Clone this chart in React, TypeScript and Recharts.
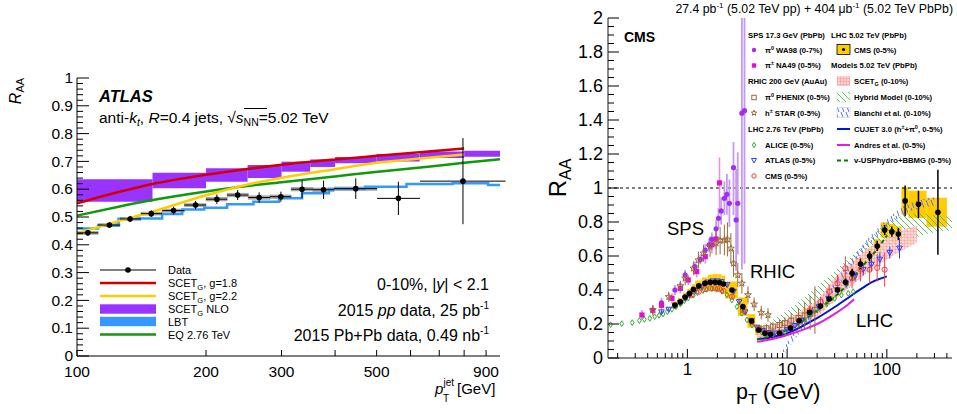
import React from 'react'
import {
  ComposedChart,
  Line,
  Scatter,
  Area,
  XAxis,
  YAxis,
  ErrorBar,
  ReferenceArea,
  ReferenceLine,
} from 'recharts'

const FONT = "'Liberation Sans', Arial, Helvetica, sans-serif"

// ---------- left panel: ATLAS jet RAA, 0-10% ----------
const jetPt = [106, 119, 133, 149, 168, 189, 212, 237, 266, 299, 335, 376, 447, 562, 795]
const jetLo = [100, 112, 126, 141, 158, 178, 200, 224, 251, 282, 316, 355, 398, 501, 631]
const jetHi = [112, 126, 141, 158, 178, 200, 224, 251, 282, 316, 355, 398, 501, 631, 1000]
const jetRaa = [0.443, 0.471, 0.493, 0.512, 0.523, 0.543, 0.564, 0.579, 0.570, 0.573, 0.600, 0.598, 0.602, 0.567, 0.629]
const jetStat = [0.010, 0.010, 0.011, 0.012, 0.014, 0.015, 0.017, 0.018, 0.019, 0.018, 0.032, 0.033, 0.037, 0.060, 0.155]
const jetSys = [0.005, 0.005, 0.005, 0.005, 0.005, 0.005, 0.006, 0.006, 0.006, 0.006, 0.006, 0.006, 0.006, 0, 0]

const scet18Pt = [100, 125, 150, 200, 250, 300, 400, 500, 650, 800]
const scet18 = [0.549, 0.59, 0.619, 0.652, 0.673, 0.688, 0.707, 0.72, 0.735, 0.746]
const scet22Pt = [100, 125, 150, 200, 250, 300, 400, 500, 650, 800]
const scet22 = [0.441, 0.485, 0.519, 0.578, 0.617, 0.641, 0.672, 0.695, 0.712, 0.725]
const eqPt = [100, 125, 150, 200, 240, 300, 400, 490, 650, 800, 970]
const eq276 = [0.505, 0.537, 0.561, 0.592, 0.609, 0.625, 0.646, 0.661, 0.68, 0.695, 0.708]

const nloLo = [100, 150, 200, 250, 300, 350, 400, 500, 630, 800]
const nloHi = [150, 200, 250, 300, 350, 400, 500, 630, 800, 970]
const nloBottom = [0.555, 0.603, 0.627, 0.64, 0.663, 0.68, 0.693, 0.70, 0.712, 0.717]
const nloTop = [0.636, 0.659, 0.675, 0.687, 0.699, 0.707, 0.716, 0.727, 0.736, 0.738]

const lbtPt = [100, 112, 125, 140, 158, 176, 198, 224, 258, 296, 335, 387, 470, 587, 752, 910, 970]
const lbtRaa = [0.459, 0.469, 0.494, 0.495, 0.511, 0.527, 0.533, 0.546, 0.555, 0.567, 0.585, 0.601, 0.609, 0.619, 0.621, 0.615, 0.615]

const leftXTicks = [100, 200, 300, 400, 500, 600, 700, 800, 900]
const leftXLabels = ['100', '200', '300', '500', '900']

// ---------- right panel: charged hadron / pi0 RAA ----------
const cmsLo = [0.7, 0.8, 0.9, 1.0, 1.1, 1.2, 1.4, 1.6, 1.8, 2.0, 2.2, 2.4, 3.2, 4.0, 4.8, 5.6, 6.4, 7.2, 9.6, 12.0, 14.4, 19.2, 24.0, 28.8, 35.2, 41.6, 48.0, 60.8, 73.6, 86.4, 103.6, 120.8, 140, 165, 250]
const cmsHi = [0.8, 0.9, 1.0, 1.1, 1.2, 1.4, 1.6, 1.8, 2.0, 2.2, 2.4, 3.2, 4.0, 4.8, 5.6, 6.4, 7.2, 9.6, 12.0, 14.4, 19.2, 24.0, 28.8, 35.2, 41.6, 48.0, 60.8, 73.6, 86.4, 103.6, 120.8, 140, 165, 250, 400]
const cmsPt = [0.75, 0.85, 0.95, 1.05, 1.15, 1.3, 1.5, 1.7, 1.9, 2.1, 2.3, 2.8, 3.6, 4.4, 5.2, 6.0, 6.8, 8.4, 10.8, 13.2, 16.8, 21.6, 26.4, 32.0, 38.4, 44.8, 54.4, 67.2, 80.0, 95.0, 112.2, 130.4, 152.5, 207.5, 325]
const cmsRaa = [0.312, 0.331, 0.359, 0.38, 0.404, 0.424, 0.439, 0.445, 0.445, 0.443, 0.435, 0.40, 0.302, 0.218, 0.165, 0.145, 0.139, 0.145, 0.176, 0.219, 0.269, 0.306, 0.347, 0.40, 0.446, 0.498, 0.553, 0.60, 0.659, 0.753, 0.743, 0.729, 0.924, 0.904, 0.857]
const cmsStat = [0.003, 0.003, 0.003, 0.003, 0.003, 0.003, 0.003, 0.003, 0.003, 0.003, 0.003, 0.004, 0.004, 0.004, 0.004, 0.004, 0.004, 0.004, 0.005, 0.006, 0.008, 0.01, 0.012, 0.015, 0.02, 0.025, 0.03, 0.03, 0.03, 0.03, 0.03, 0.035, 0.09, 0.08, 0.25]
const cmsSys = [0.02, 0.022, 0.025, 0.027, 0.03, 0.032, 0.035, 0.045, 0.05, 0.05, 0.05, 0.05, 0.055, 0.04, 0.03, 0.025, 0.02, 0.02, 0.02, 0.02, 0.022, 0.025, 0.027, 0.03, 0.032, 0.035, 0.035, 0.04, 0.04, 0.045, 0.045, 0.045, 0.08, 0.08, 0.085]

const wa98Pt = [0.55, 0.75, 0.95, 1.19, 1.35, 1.51, 1.65, 1.76, 1.94, 2.05, 2.18, 2.35, 2.49, 2.64, 2.9, 3.08, 3.2, 3.52, 3.74]
const wa98Raa = [0.325, 0.40, 0.488, 0.537, 0.58, 0.635, 0.665, 0.698, 0.76, 0.822, 0.865, 0.939, 0.963, 0.91, 1.12, 0.812, 0.91, 1.44, 1.455]
const wa98ErrLo = [0.03, 0.03, 0.03, 0.03, 0.03, 0.035, 0.04, 0.04, 0.05, 0.06, 0.08, 0.1, 0.12, 0.14, 0.28, 0.3, 0.3, 0.92, 0.9]
const wa98ErrHi = [0.03, 0.03, 0.03, 0.03, 0.03, 0.035, 0.04, 0.04, 0.05, 0.06, 0.08, 0.1, 0.12, 0.14, 0.15, 0.3, 0.3, 0.56, 0.545]

const na49Pt = [0.35, 0.45, 0.55, 0.70, 0.85, 1.02, 1.24, 1.51, 1.76, 1.94, 2.1]
const na49Raa = [0.253, 0.28, 0.31, 0.351, 0.41, 0.459, 0.508, 0.596, 0.665, 0.70, 1.03]
const na49Err = [0.03, 0.03, 0.03, 0.03, 0.03, 0.03, 0.035, 0.04, 0.05, 0.06, 0.15]

const phenixPt = [5.2, 6.2, 7.2, 8.4, 9.5, 11, 13, 15, 17, 19]
const phenixRaa = [0.17, 0.175, 0.185, 0.194, 0.205, 0.22, 0.235, 0.25, 0.265, 0.282]
const phenixErr = [0.02, 0.02, 0.025, 0.03, 0.035, 0.045, 0.06, 0.08, 0.1, 0.14]

const starPt = [0.45, 0.65, 0.85, 0.95, 1.15, 1.29, 1.45, 1.69, 1.94, 2.13, 2.35, 2.52, 2.73, 2.9, 3.2, 3.52, 4.05, 4.67, 5.5, 6.43]
const starRaa = [0.282, 0.36, 0.424, 0.469, 0.528, 0.576, 0.616, 0.655, 0.675, 0.69, 0.694, 0.698, 0.645, 0.557, 0.488, 0.439, 0.371, 0.316, 0.267, 0.253]
const starErr = [0.03, 0.03, 0.03, 0.04, 0.04, 0.05, 0.05, 0.06, 0.07, 0.08, 0.09, 0.1, 0.09, 0.08, 0.07, 0.06, 0.05, 0.04, 0.04, 0.04]

const alicePt = [0.17, 0.22, 0.28, 0.33, 0.37, 0.42, 0.47, 0.52, 0.57, 0.63, 0.70, 0.77, 0.85, 0.93, 1.02, 1.15, 1.26, 1.43, 1.57, 1.76, 1.97, 2.22, 2.49, 2.79, 3.14, 3.52, 3.95, 4.44, 4.98, 5.6, 6.3, 7.2, 8.3, 9.5, 11, 13, 15, 17.5, 21, 25, 30, 35, 41, 46]
const aliceRaa = [0.196, 0.202, 0.208, 0.22, 0.227, 0.233, 0.243, 0.251, 0.259, 0.272, 0.286, 0.302, 0.318, 0.337, 0.353, 0.369, 0.384, 0.396, 0.404, 0.408, 0.404, 0.392, 0.371, 0.341, 0.302, 0.263, 0.224, 0.194, 0.165, 0.15, 0.142, 0.14, 0.145, 0.155, 0.175, 0.2, 0.225, 0.255, 0.29, 0.32, 0.35, 0.37, 0.38, 0.39]

const atlasPt = [0.55, 0.65, 0.75, 0.85, 0.95, 1.05, 1.2, 1.4, 1.6, 1.8, 2.0, 2.2, 2.5, 2.9, 3.3, 3.8, 4.4, 5.0, 5.7, 6.5, 7.5, 8.7, 10, 12, 14, 17, 21, 26, 32, 39, 48, 58, 70, 85, 107, 134]
const atlasRaa = [0.27, 0.285, 0.305, 0.325, 0.35, 0.37, 0.395, 0.42, 0.445, 0.452, 0.452, 0.448, 0.43, 0.39, 0.33, 0.27, 0.22, 0.18, 0.16, 0.148, 0.145, 0.15, 0.165, 0.19, 0.22, 0.26, 0.30, 0.35, 0.40, 0.44, 0.48, 0.52, 0.55, 0.58, 0.62, 0.645]
const atlasErr = [0.01, 0.01, 0.01, 0.01, 0.01, 0.01, 0.01, 0.01, 0.01, 0.01, 0.01, 0.01, 0.01, 0.01, 0.01, 0.01, 0.01, 0.01, 0.01, 0.01, 0.01, 0.01, 0.01, 0.01, 0.015, 0.015, 0.02, 0.02, 0.025, 0.03, 0.03, 0.035, 0.04, 0.04, 0.035, 0.06]

const cms276Pt = [1.1, 1.3, 1.5, 1.7, 1.9, 2.1, 2.3, 2.8, 3.6, 4.4, 5.2, 6.0, 6.8, 8.4, 10.8, 13.2, 16.8, 21.6, 26.4, 32, 38.4, 44.8, 54.4, 67.2, 80, 95]
const cms276Raa = [0.37, 0.39, 0.405, 0.41, 0.41, 0.405, 0.395, 0.36, 0.28, 0.21, 0.17, 0.15, 0.14, 0.15, 0.18, 0.22, 0.28, 0.33, 0.39, 0.44, 0.528, 0.47, 0.52, 0.52, 0.53, 0.52]
const cms276Err = [0.01, 0.01, 0.01, 0.01, 0.01, 0.01, 0.01, 0.01, 0.01, 0.01, 0.01, 0.01, 0.01, 0.01, 0.015, 0.02, 0.025, 0.03, 0.04, 0.05, 0.07, 0.06, 0.07, 0.08, 0.08, 0.1]

const scetPt = [5, 7, 10, 15, 20, 30, 50, 70, 100, 140, 200]
const scetLo = [0.11, 0.12, 0.14, 0.19, 0.24, 0.34, 0.45, 0.52, 0.58, 0.63, 0.68]
const scetHi = [0.18, 0.19, 0.23, 0.29, 0.34, 0.47, 0.59, 0.66, 0.71, 0.75, 0.78]

const hybridPt = [5, 7, 10, 15, 20, 30, 50, 70, 100, 150, 200, 300, 450]
const hybridLo = [0.11, 0.13, 0.16, 0.21, 0.26, 0.34, 0.45, 0.53, 0.60, 0.67, 0.71, 0.74, 0.75]
const hybridHi = [0.18, 0.22, 0.28, 0.36, 0.42, 0.51, 0.63, 0.71, 0.80, 0.84, 0.85, 0.84, 0.83]

const bianchiPt = [9, 10, 12, 15, 20, 30, 50, 70, 100, 150, 200, 300]
const bianchiLo = [0.0, 0.045, 0.11, 0.19, 0.275, 0.395, 0.575, 0.675, 0.765, 0.845, 0.875, 0.895]
const bianchiHi = [0.04, 0.095, 0.16, 0.24, 0.325, 0.445, 0.625, 0.725, 0.815, 0.895, 0.925, 0.945]

const cujetPt = [5, 6, 7, 8, 10, 12, 15, 20, 30, 40, 50, 60, 70, 80, 100]
const cujet = [0.11, 0.115, 0.122, 0.13, 0.145, 0.165, 0.195, 0.235, 0.30, 0.35, 0.39, 0.42, 0.445, 0.46, 0.48]
const andresPt = [5, 7, 10, 15, 20, 30, 40, 47]
const andres = [0.095, 0.11, 0.135, 0.17, 0.20, 0.26, 0.31, 0.345]
const hydroPt = [5, 7, 10, 15, 20, 30, 40, 55, 75, 100]
const hydro = [0.11, 0.13, 0.165, 0.225, 0.28, 0.36, 0.43, 0.53, 0.62, 0.72]

const rightXTicks = [0.2, 0.3, 0.4, 0.5, 0.6, 0.7, 0.8, 0.9, 1, 2, 3, 4, 5, 6, 7, 8, 9, 10, 20, 30, 40, 50, 60, 70, 80, 90, 100, 200, 300, 400]
const rightXLabels = ['1', '10', '100']

const range = (from: number, to: number, step: number) => {
  const out: number[] = []
  for (let v = from; v <= to + 1e-9; v += step) out.push(Math.round(v * 1000) / 1000)
  return out
}
const leftYTicks = range(0, 1, 0.02)
const rightYTicks = range(0, 2, 0.05)

// ---------- tick renderer (ROOT style, ticks inside the frame) ----------
type TickOpts = {
  side: 'left' | 'right' | 'top' | 'bottom'
  major: (v: number) => boolean
  label?: (v: number) => string | null
  majorLen: number
  minorLen: number
  fontSize?: number
  offset?: number
}

const makeTick = (o: TickOpts) => (props: any) => {
  const { x, y, payload } = props
  const v = payload.value
  const len = o.major(v) ? o.majorLen : o.minorLen
  let line
  if (o.side === 'bottom') line = <line x1={x} y1={y} x2={x} y2={y - len} stroke="#000" />
  else if (o.side === 'top') line = <line x1={x} y1={y} x2={x} y2={y + len} stroke="#000" />
  else if (o.side === 'left') line = <line x1={x} y1={y} x2={x + len} y2={y} stroke="#000" />
  else line = <line x1={x} y1={y} x2={x - len} y2={y} stroke="#000" />
  const lab = o.label ? o.label(v) : null
  let text = null
  if (lab) {
    const fs = o.fontSize ?? 15
    if (o.side === 'bottom')
      text = <text x={x} y={y + (o.offset ?? 18)} textAnchor="middle" fontSize={fs} fontFamily={FONT} fill="#000">{lab}</text>
    else
      text = <text x={x - (o.offset ?? 5)} y={y + fs * 0.34} textAnchor="end" fontSize={fs} fontFamily={FONT} fill="#000">{lab}</text>
  }
  return <g>{line}{text}</g>
}

const near = (v: number, step: number) => Math.abs(v / step - Math.round(v / step)) < 1e-6
const fmt = (v: number) => String(Math.round(v * 10) / 10)

// ---------- markers ----------
const marker = (kind: string, cx: number, cy: number, color: string, s = 3, key?: string) => {
  switch (kind) {
    case 'fcircle':
      return <circle key={key} cx={cx} cy={cy} r={s} fill={color} />
    case 'fsquare':
      return <rect key={key} x={cx - s} y={cy - s} width={2 * s} height={2 * s} fill={color} />
    case 'osquare':
      return <rect key={key} x={cx - s} y={cy - s} width={2 * s} height={2 * s} fill="none" stroke={color} strokeWidth={1} />
    case 'ocircle':
      return <circle key={key} cx={cx} cy={cy} r={s} fill="none" stroke={color} strokeWidth={1} />
    case 'odiamond':
      return <polygon key={key} points={`${cx},${cy - s * 1.2} ${cx + s * 0.75},${cy} ${cx},${cy + s * 1.2} ${cx - s * 0.75},${cy}`} fill="none" stroke={color} strokeWidth={1} />
    case 'otri':
      return <polygon key={key} points={`${cx - s},${cy - s * 0.8} ${cx + s},${cy - s * 0.8} ${cx},${cy + s}`} fill="none" stroke={color} strokeWidth={1} />
    case 'ostar': {
      const p: string[] = []
      for (let i = 0; i < 10; i++) {
        const r = i % 2 === 0 ? s * 1.2 : s * 0.5
        const a = -Math.PI / 2 + (i * Math.PI) / 5
        p.push(`${cx + r * Math.cos(a)},${cy + r * Math.sin(a)}`)
      }
      return <polygon key={key} points={p.join(' ')} fill="none" stroke={color} strokeWidth={1} />
    }
    default:
      return null
  }
}
const shape = (kind: string, color: string, s = 3) => (p: any) => marker(kind, p.cx, p.cy, color, s) ?? <g />

const pts = (xs: number[], ys: number[], err?: number[], errHi?: number[]) =>
  xs.map((x, i) => ({ x, y: ys[i], ey: err ? [err[i], (errHi ?? err)[i]] : 0 }))
const band = (xs: number[], lo: number[], hi: number[]) => xs.map((x, i) => ({ x, r: [lo[i], hi[i]] }))

// ---------- colours ----------
const C = {
  red: '#d00000',
  yellow: '#ffcc00',
  purple: '#9933ff',
  lbt: '#3399ff',
  green: '#0e990e',
  wa98: '#9f2ef0',
  wa98Err: '#c59af5',
  na49: '#e010d0',
  brown: '#9a6a3a',
  alice: '#33aa33',
  atlas: '#2f3cff',
  cms276: '#ff3a3a',
  cujet: '#0015d0',
  andres: '#e020e0',
  hydro: '#007a00',
}

function LeftPanel() {
  const data = jetPt.map((x, i) => ({ x, y: jetRaa[i], ex: [x - jetLo[i], jetHi[i] - x], ey: jetStat[i] }))
  return (
    <ComposedChart width={520} height={414} margin={{ top: 78, right: 20, bottom: 0, left: 0 }}>
      <XAxis
        dataKey="x" type="number" scale="log" domain={[100, 970]} allowDataOverflow
        ticks={leftXTicks} interval={0} height={58} tickSize={0} tickMargin={0}
        axisLine={{ stroke: '#000' }} tickLine={false}
        tick={makeTick({ side: 'bottom', major: () => true, majorLen: 6, minorLen: 6, fontSize: 15.5, offset: 21, label: (v) => (leftXLabels.includes(String(v)) ? String(v) : null) })}
      />
      <XAxis
        xAxisId="top" orientation="top" dataKey="x" type="number" scale="log" domain={[100, 970]} allowDataOverflow
        ticks={leftXTicks.slice(1)} interval={0} height={0} tickSize={0} tickMargin={0}
        axisLine={{ stroke: '#000' }} tickLine={false}
        tick={makeTick({ side: 'top', major: () => true, majorLen: 6, minorLen: 6 })}
      />
      <YAxis
        type="number" domain={[0, 1]} allowDataOverflow ticks={leftYTicks} interval={0} width={77}
        tickSize={0} tickMargin={0} axisLine={{ stroke: '#000' }} tickLine={false}
        tick={makeTick({ side: 'left', major: (v) => near(v, 0.1), majorLen: 12, minorLen: 6, fontSize: 15.5, offset: 4, label: (v) => (near(v, 0.1) ? fmt(v) : null) })}
      />
      <YAxis
        yAxisId="right" orientation="right" type="number" domain={[0, 1]} allowDataOverflow ticks={leftYTicks} interval={0} width={0}
        tickSize={0} tickMargin={0} axisLine={{ stroke: '#000' }} tickLine={false}
        tick={makeTick({ side: 'right', major: (v) => near(v, 0.1), majorLen: 12, minorLen: 6 })}
      />
      {nloLo.map((lo, i) => (
        <ReferenceArea key={`nlo${i}`} x1={lo} x2={nloHi[i]} y1={nloBottom[i]} y2={nloTop[i]} fill={C.purple} fillOpacity={1} stroke="none" ifOverflow="hidden" />
      ))}
      {jetPt.map((_, i) =>
        jetSys[i] > 0 ? (
          <ReferenceArea key={`sys${i}`} x1={jetLo[i]} x2={jetHi[i]} y1={jetRaa[i] - jetSys[i]} y2={jetRaa[i] + jetSys[i]} fill="#b0b0b0" fillOpacity={1} stroke="#8a8a8a" strokeWidth={0.6} ifOverflow="hidden" />
        ) : null,
      )}
      <Line data={lbtPt.map((x, i) => ({ x, y: lbtRaa[i] }))} dataKey="y" type="stepAfter" stroke={C.lbt} strokeWidth={2.5} dot={false} isAnimationActive={false} />
      <Line data={eqPt.map((x, i) => ({ x, y: eq276[i] }))} dataKey="y" type="monotone" stroke={C.green} strokeWidth={2.5} dot={false} isAnimationActive={false} />
      <Line data={scet22Pt.map((x, i) => ({ x, y: scet22[i] }))} dataKey="y" type="monotone" stroke={C.yellow} strokeWidth={2.5} dot={false} isAnimationActive={false} />
      <Line data={scet18Pt.map((x, i) => ({ x, y: scet18[i] }))} dataKey="y" type="monotone" stroke={C.red} strokeWidth={2.5} dot={false} isAnimationActive={false} />
      <Scatter data={data} dataKey="y" isAnimationActive={false} shape={shape('fcircle', '#000', 2.8)}>
        <ErrorBar dataKey="ex" direction="x" width={0} stroke="#000" strokeWidth={1} />
        <ErrorBar dataKey="ey" direction="y" width={0} stroke="#000" strokeWidth={1} />
      </Scatter>
    </ComposedChart>
  )
}

function RightPanel() {
  const cms = cmsPt.map((x, i) => ({ x, y: cmsRaa[i], ey: cmsStat[i] }))
  return (
    <ComposedChart width={437} height={414} margin={{ top: 18, right: 5, bottom: 0, left: 0 }}>
      <XAxis
        dataKey="x" type="number" scale="log" domain={[0.16, 450]} allowDataOverflow
        ticks={rightXTicks} interval={0} height={56} tickSize={0} tickMargin={0}
        axisLine={{ stroke: '#8a8a8a', strokeWidth: 2 }} tickLine={false}
        tick={makeTick({ side: 'bottom', major: (v) => [1, 10, 100].includes(v), majorLen: 9, minorLen: 5, fontSize: 17, offset: 17, label: (v) => (rightXLabels.includes(String(v)) ? String(v) : null) })}
      />
      <XAxis
        xAxisId="top" orientation="top" dataKey="x" type="number" scale="log" domain={[0.16, 450]} allowDataOverflow
        ticks={rightXTicks} interval={0} height={0} tickSize={0} tickMargin={0}
        axisLine={{ stroke: '#000' }} tickLine={false}
        tick={makeTick({ side: 'top', major: (v) => [1, 10, 100].includes(v), majorLen: 9, minorLen: 5 })}
      />
      <YAxis
        type="number" domain={[0, 2]} allowDataOverflow ticks={rightYTicks} interval={0} width={88}
        tickSize={0} tickMargin={0} axisLine={{ stroke: '#8a8a8a', strokeWidth: 2 }} tickLine={false}
        tick={makeTick({ side: 'left', major: (v) => near(v, 0.2), majorLen: 11, minorLen: 6, fontSize: 18, offset: 5, label: (v) => (near(v, 0.2) ? fmt(v) : null) })}
      />
      <YAxis
        yAxisId="right" orientation="right" type="number" domain={[0, 2]} allowDataOverflow ticks={rightYTicks} interval={0} width={0}
        tickSize={0} tickMargin={0} axisLine={{ stroke: '#000' }} tickLine={false}
        tick={makeTick({ side: 'right', major: (v) => near(v, 0.2), majorLen: 11, minorLen: 6 })}
      />
      {cmsPt.map((_, i) => (
        <ReferenceArea key={`cs${i}`} x1={cmsLo[i]} x2={cmsHi[i]} y1={cmsRaa[i] - cmsSys[i]} y2={cmsRaa[i] + cmsSys[i]} fill={C.yellow} fillOpacity={1} stroke="none" ifOverflow="hidden" />
      ))}
      <ReferenceLine y={1} stroke="#000" strokeDasharray="3 3" strokeWidth={1.2} />
      <Area data={band(hybridPt, hybridLo, hybridHi)} dataKey="r" type="monotone" stroke="none" fill="url(#hybridHatch)" fillOpacity={1} isAnimationActive={false} />
      <Area data={band(scetPt, scetLo, scetHi)} dataKey="r" type="monotone" stroke="none" fill="url(#scetHatch)" fillOpacity={0.85} isAnimationActive={false} />
      <Area data={band(bianchiPt, bianchiLo, bianchiHi)} dataKey="r" type="monotone" stroke="none" fill="url(#bianchiHatch)" fillOpacity={1} isAnimationActive={false} />
      <Line data={pts(cujetPt, cujet)} dataKey="y" type="monotone" stroke={C.cujet} strokeWidth={2} dot={false} isAnimationActive={false} />
      <Line data={pts(andresPt, andres)} dataKey="y" type="monotone" stroke={C.andres} strokeWidth={2} dot={false} isAnimationActive={false} />
      <Line data={pts(hydroPt, hydro)} dataKey="y" type="monotone" stroke={C.hydro} strokeWidth={2} strokeDasharray="4 3" dot={false} isAnimationActive={false} />
      <Scatter data={pts(wa98Pt, wa98Raa, wa98ErrLo, wa98ErrHi)} dataKey="y" isAnimationActive={false} shape={shape('fcircle', C.wa98, 2.6)}>
        <ErrorBar dataKey="ey" direction="y" width={0} stroke={C.wa98Err} strokeWidth={1.8} />
      </Scatter>
      <Scatter data={pts(na49Pt, na49Raa, na49Err)} dataKey="y" isAnimationActive={false} shape={shape('fsquare', C.na49, 2.6)}>
        <ErrorBar dataKey="ey" direction="y" width={0} stroke="#ee88e8" strokeWidth={1.5} />
      </Scatter>
      <Scatter data={pts(starPt, starRaa, starErr)} dataKey="y" isAnimationActive={false} shape={shape('ostar', C.brown, 3)}>
        <ErrorBar dataKey="ey" direction="y" width={0} stroke={C.brown} strokeWidth={1} />
      </Scatter>
      <Scatter data={pts(phenixPt, phenixRaa, phenixErr)} dataKey="y" isAnimationActive={false} shape={shape('osquare', C.brown, 2.5)}>
        <ErrorBar dataKey="ey" direction="y" width={0} stroke={C.brown} strokeWidth={1} />
      </Scatter>
      <Scatter data={pts(alicePt, aliceRaa)} dataKey="y" isAnimationActive={false} shape={shape('odiamond', C.alice, 2.4)} />
      <Scatter data={pts(atlasPt, atlasRaa, atlasErr)} dataKey="y" isAnimationActive={false} shape={shape('otri', C.atlas, 2.8)}>
        <ErrorBar dataKey="ey" direction="y" width={0} stroke={C.atlas} strokeWidth={1} />
      </Scatter>
      <Scatter data={pts(cms276Pt, cms276Raa, cms276Err)} dataKey="y" isAnimationActive={false} shape={shape('ocircle', C.cms276, 2.6)}>
        <ErrorBar dataKey="ey" direction="y" width={0} stroke={C.cms276} strokeWidth={1} />
      </Scatter>
      <Scatter data={cms} dataKey="y" isAnimationActive={false} shape={shape('fcircle', '#000', 2.8)}>
        <ErrorBar dataKey="ey" direction="y" width={0} stroke="#000" strokeWidth={1.5} />
      </Scatter>
    </ComposedChart>
  )
}

const Sub = ({ children, size, dy }: { children: React.ReactNode; size: number; dy: number }) => (
  <tspan fontSize={size} dy={dy}>{children}</tspan>
)

function Overlay() {
  const lRows = [270, 283, 296, 309, 321.5, 334.5]
  const r1 = [37.5, 52.5, 68, 84, 100, 115.5, 131.5, 147.5, 163, 178.5]
  const lg = { fontSize: 7.7, fontWeight: 700 as const }
  return (
    <svg width={957} height={414} style={{ position: 'absolute', left: 0, top: 0, pointerEvents: 'none' }} fontFamily={FONT}>
      <defs>
        <pattern id="scetHatch" width="3" height="3" patternUnits="userSpaceOnUse">
          <rect width="3" height="3" fill="#ffd6d6" />
          <path d="M0 0.5 H3 M0.5 0 V3" stroke="#ff9c9c" strokeWidth="0.7" />
        </pattern>
        <pattern id="hybridHatch" width="6" height="6" patternUnits="userSpaceOnUse">
          <path d="M-1 -1 L7 7 M-1 5 L1 7 M5 -1 L7 1" stroke="#44bb44" strokeWidth="0.9" />
        </pattern>
        <pattern id="bianchiHatch" width="5" height="8" patternUnits="userSpaceOnUse">
          <path d="M1 0 L4 8" stroke="#5b6cff" strokeWidth="1" />
        </pattern>
      </defs>

      {/* ---- left panel annotations ---- */}
      <text transform="translate(21,91) rotate(-90)" textAnchor="middle" fontSize={16}>
        <tspan fontStyle="italic">R</tspan>
        <Sub size={11} dy={3}>AA</Sub>
      </text>
      <text x={99} y={102} fontSize={16.5} fontWeight={700} fontStyle="italic">ATLAS</text>
      <text x={99} y={123} fontSize={15.5}>
        anti-<tspan fontStyle="italic">k</tspan>
        <Sub size={10.5} dy={3}><tspan fontStyle="italic">t</tspan></Sub>
        <tspan dy={-3}>, </tspan>
        <tspan fontStyle="italic">R</tspan>=0.4 jets, √<tspan fontStyle="italic">s</tspan>
        <Sub size={10.5} dy={3}>NN</Sub>
        <tspan dy={-3}>=5.02 TeV</tspan>
      </text>
      <line x1={244} y1={108.5} x2={267} y2={108.5} stroke="#000" strokeWidth={1} />
      <text x={489} y={290} fontSize={16} textAnchor="end">
        0-10%, |<tspan fontStyle="italic">y</tspan>| &lt; 2.1
      </text>
      <text x={489} y={316} fontSize={16} textAnchor="end">
        2015 <tspan fontStyle="italic">pp</tspan> data, 25 pb<Sub size={10} dy={-7}>-1</Sub>
      </text>
      <text x={489} y={341} fontSize={16} textAnchor="end">
        2015 Pb+Pb data, 0.49 nb<Sub size={10} dy={-7}>-1</Sub>
      </text>
      <text x={435} y={394} fontSize={15} fontStyle="italic">p</text>
      <text x={443.5} y={386} fontSize={10}>jet</text>
      <text x={443} y={402} fontSize={10}>T</text>
      <text x={457} y={394} fontSize={15}>[GeV]</text>

      {/* left legend */}
      <line x1={100} y1={lRows[0]} x2={156} y2={lRows[0]} stroke="#000" strokeWidth={1} />
      <circle cx={128} cy={lRows[0]} r={2.8} fill="#000" />
      <line x1={100} y1={lRows[1]} x2={156} y2={lRows[1]} stroke={C.red} strokeWidth={2.5} />
      <line x1={100} y1={lRows[2]} x2={156} y2={lRows[2]} stroke={C.yellow} strokeWidth={2.5} />
      <rect x={100} y={lRows[3] - 4.7} width={56} height={9.4} fill={C.purple} />
      <rect x={100} y={lRows[4] - 4.7} width={56} height={9.4} fill={C.lbt} />
      <line x1={100} y1={lRows[5]} x2={156} y2={lRows[5]} stroke={C.green} strokeWidth={2.5} />
      <g fontSize={11}>
        <text x={168} y={lRows[0] + 4}>Data</text>
        <text x={168} y={lRows[1] + 4}>SCET<Sub size={7.5} dy={3}>G</Sub><tspan dy={-3}>, g=1.8</tspan></text>
        <text x={168} y={lRows[2] + 4}>SCET<Sub size={7.5} dy={3}>G</Sub><tspan dy={-3}>, g=2.2</tspan></text>
        <text x={168} y={lRows[3] + 4}>SCET<Sub size={7.5} dy={3}>G</Sub><tspan dy={-3}> NLO</tspan></text>
        <text x={168} y={lRows[4] + 4}>LBT</text>
        <text x={168} y={lRows[5] + 4}>EQ 2.76 TeV</text>
      </g>

      {/* ---- right panel annotations ---- */}
      <text x={953} y={13} fontSize={12.3} textAnchor="end">
        27.4 pb<Sub size={8} dy={-5}>-1</Sub><tspan dy={5}> (5.02 TeV pp) + 404 μb</tspan>
        <Sub size={8} dy={-5}>-1</Sub><tspan dy={5}> (5.02 TeV PbPb)</tspan>
      </text>
      <text x={624} y={42} fontSize={14} fontWeight={700}>CMS</text>
      <text transform="translate(566,178) rotate(-90)" textAnchor="middle" fontSize={24}>
        R<Sub size={16} dy={5}>AA</Sub>
      </text>
      <text x={736} y={399} fontSize={21.5}>
        p<Sub size={15} dy={5}>T</Sub><tspan dy={-5}> (GeV)</tspan>
      </text>
      <text x={667} y={235} fontSize={18.5}>SPS</text>
      <text x={750} y={278} fontSize={18.5}>RHIC</text>
      <text x={856} y={327} fontSize={18.5}>LHC</text>

      {/* right legend, column 1 */}
      <g {...lg}>
        <text x={748} y={r1[0]}>SPS 17.3 GeV (PbPb)</text>
        <text x={765} y={r1[1]}>π<Sub size={5.5} dy={-3}>0</Sub><tspan dy={3}> WA98 (0-7%)</tspan></text>
        <text x={765} y={r1[2]}>π<Sub size={5.5} dy={-3}>±</Sub><tspan dy={3}> NA49 (0-5%)</tspan></text>
        <text x={748} y={r1[3]}>RHIC 200 GeV (AuAu)</text>
        <text x={765} y={r1[4]}>π<Sub size={5.5} dy={-3}>0</Sub><tspan dy={3}> PHENIX (0-5%)</tspan></text>
        <text x={765} y={r1[5]}>h<Sub size={5.5} dy={-3}>±</Sub><tspan dy={3}> STAR (0-5%)</tspan></text>
        <text x={748} y={r1[6]}>LHC 2.76 TeV (PbPb)</text>
        <text x={765} y={r1[7]}>ALICE (0-5%)</text>
        <text x={765} y={r1[8]}>ATLAS (0-5%)</text>
        <text x={765} y={r1[9]}>CMS (0-5%)</text>
      </g>
      {marker('fcircle', 754, r1[1] - 2.5, C.wa98, 2.2)}
      {marker('fsquare', 754, r1[2] - 2.5, C.na49, 2.2)}
      {marker('osquare', 754, r1[4] - 2.5, C.brown, 2.2)}
      {marker('ostar', 754, r1[5] - 2.5, C.brown, 2.4)}
      {marker('odiamond', 754, r1[7] - 2.5, C.alice, 2.2)}
      {marker('otri', 754, r1[8] - 2.5, C.atlas, 2.5)}
      {marker('ocircle', 754, r1[9] - 2.5, C.cms276, 2.2)}

      {/* right legend, column 2 */}
      <g {...lg}>
        <text x={831} y={r1[0]}>LHC 5.02 TeV (PbPb)</text>
        <text x={854} y={r1[1]}>CMS (0-5%)</text>
        <text x={831} y={r1[2]}>Models 5.02 TeV (PbPb)</text>
        <text x={854} y={r1[3]}>SCET<Sub size={5.5} dy={2}>G</Sub><tspan dy={-2}> (0-10%)</tspan></text>
        <text x={854} y={r1[4]}>Hybrid Model (0-10%)</text>
        <text x={854} y={r1[5]}>Bianchi et al. (0-10%)</text>
        <text x={854} y={r1[6]}>CUJET 3.0 (h<Sub size={5.5} dy={-3}>±</Sub><tspan dy={3}>+π</tspan><Sub size={5.5} dy={-3}>0</Sub><tspan dy={3}>, 0-5%)</tspan></text>
        <text x={854} y={r1[7]}>Andres et al. (0-5%)</text>
        <text x={854} y={r1[8]}>v-USPhydro+BBMG (0-5%)</text>
      </g>
      <rect x={837} y={r1[1] - 8} width={13} height={10} fill={C.yellow} stroke="#000" strokeWidth={0.8} />
      <circle cx={843.5} cy={r1[1] - 3} r={1.6} fill="#000" />
      <rect x={837} y={r1[3] - 8} width={13} height={10} fill="url(#scetHatch)" />
      <rect x={837} y={r1[4] - 8} width={13} height={10} fill="url(#hybridHatch)" stroke="#bde8bd" strokeWidth={0.6} />
      <rect x={837} y={r1[5] - 8} width={13} height={10} fill="url(#bianchiHatch)" stroke="#c9cdfa" strokeWidth={0.6} />
      <line x1={837} y1={r1[6] - 2.5} x2={850} y2={r1[6] - 2.5} stroke={C.cujet} strokeWidth={2} />
      <line x1={837} y1={r1[7] - 2.5} x2={850} y2={r1[7] - 2.5} stroke={C.andres} strokeWidth={2} />
      <line x1={837} y1={r1[8] - 2.5} x2={850} y2={r1[8] - 2.5} stroke={C.hydro} strokeWidth={2} strokeDasharray="4 3" />
    </svg>
  )
}

export default function App() {
  return (
    <div style={{ position: 'absolute', left: 0, top: 0, width: 957, height: 414, background: '#fff', fontFamily: FONT }}>
      <div style={{ position: 'absolute', left: 0, top: 0 }}>
        <LeftPanel />
      </div>
      <div style={{ position: 'absolute', left: 520, top: 0 }}>
        <RightPanel />
      </div>
      <Overlay />
    </div>
  )
}
